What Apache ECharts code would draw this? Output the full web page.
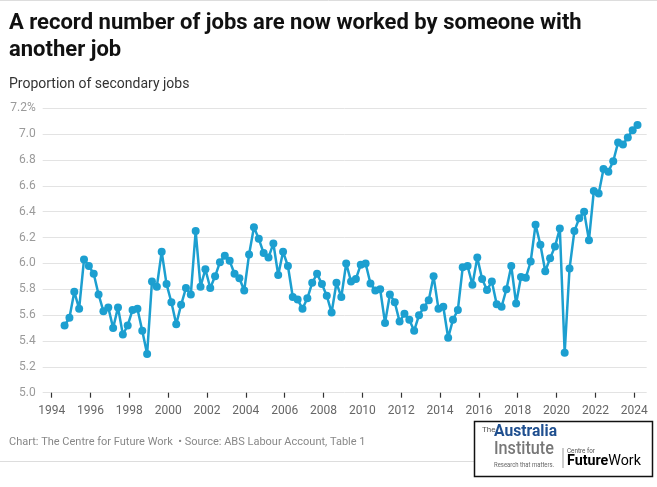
<!DOCTYPE html>
<html>
<head>
<meta charset="utf-8">
<script src="https://cdn.jsdelivr.net/npm/echarts@6/dist/echarts.min.js"></script>
<style>
html,body{margin:0;padding:0;background:#fff;}
#chart{width:657px;height:487px;}
</style>
</head>
<body>
<div id="chart"></div>
<script>
// Quarterly series, first observation Sep 1994
const startYear = 1994;
const startMonth = 9;
const secondaryShare = [
  5.52, 5.58, 5.78, 5.65, 6.03, 5.98, 5.92, 5.76, 5.63, 5.66,
  5.50, 5.66, 5.45, 5.52, 5.64, 5.65, 5.48, 5.30, 5.86, 5.82,
  6.09, 5.84, 5.70, 5.53, 5.68, 5.81, 5.76, 6.25, 5.82, 5.955,
  5.81, 5.90, 6.01, 6.06, 6.02, 5.92, 5.885, 5.79, 6.07, 6.28,
  6.19, 6.08, 6.045, 6.155, 5.91, 6.09, 5.98, 5.74, 5.72, 5.65,
  5.73, 5.85, 5.92, 5.84, 5.75, 5.62, 5.85, 5.74, 6.00, 5.86,
  5.88, 5.99, 6.00, 5.845, 5.79, 5.80, 5.54, 5.76, 5.70, 5.55,
  5.61, 5.565, 5.48, 5.60, 5.66, 5.715, 5.90, 5.65, 5.665, 5.425,
  5.565, 5.64, 5.97, 5.98, 5.835, 6.045, 5.88, 5.795, 5.86, 5.685,
  5.665, 5.80, 5.98, 5.69, 5.895, 5.89, 6.015, 6.30, 6.145, 5.94,
  6.04, 6.13, 6.27, 5.31, 5.96, 6.25, 6.35, 6.40, 6.18, 6.56,
  6.54, 6.73, 6.71, 6.79, 6.935, 6.92, 6.975, 7.03, 7.07
];
const xTickYears = [1994, 1996, 1998, 2000, 2002, 2004, 2006, 2008, 2010, 2012, 2014, 2016, 2018, 2020, 2022, 2024];
const yTicks = [5.0, 5.2, 5.4, 5.6, 5.8, 6.0, 6.2, 6.4, 6.6, 6.8, 7.0, 7.2];

// quarter dates as decimal years (first day of the quarter's last month)
const quarterDates = secondaryShare.map((_, i) => {
  const m = startMonth - 1 + i * 3;
  return startYear + Math.floor(m / 12) + (m % 12) / 12;
});
const seriesData = secondaryShare.map((v, i) => [quarterDates[i], v]);

const chart = echarts.init(document.getElementById('chart'), null, {renderer: 'canvas'});
const FONT = 'Roboto';
const option = {
  backgroundColor: '#ffffff',
  animation: false,
  title: {
    text: 'A record number of jobs are now worked by someone with\nanother job',
    left: 4, top: 5,
    textStyle: {fontFamily: FONT, fontSize: 22, fontWeight: 'bold', color: '#111111', lineHeight: 27}
  },
  grid: {left: 42.7, right: 10.3, top: 108.3, bottom: 94.3, containLabel: false},
  xAxis: {
    type: 'value',
    min: 1993.54, max: 2024.64,
    axisLine: {show: false},
    splitLine: {show: false},
    axisTick: {show: true, length: 5, lineStyle: {color: '#333333', width: 1.2}, customValues: xTickYears},
    axisLabel: {
      customValues: xTickYears,
      fontFamily: FONT, fontSize: 12, color: '#666666', margin: 12,
      formatter: v => String(Math.round(v))
    }
  },
  yAxis: {
    type: 'value',
    min: 5.0, max: 7.2, interval: 0.2,
    axisLine: {show: false},
    axisTick: {show: false},
    splitLine: {show: true, lineStyle: {color: '#e3e3e3', width: 1}},
    axisLabel: {
      fontFamily: FONT, fontSize: 12, color: '#9a9a9a', margin: 7,
      formatter: v => (Math.abs(v - yTicks[yTicks.length - 1]) < 1e-6 ? v.toFixed(1) + '%' : v.toFixed(1))
    }
  },
  series: [{
    type: 'line',
    data: seriesData,
    symbol: 'circle',
    symbolSize: 8,
    showAllSymbol: true,
    lineStyle: {color: '#1c9fd0', width: 2.5},
    itemStyle: {color: '#1c9fd0'},
    z: 3
  }],
  graphic: [
    {type: 'line', shape: {x1: 0, y1: 0.5, x2: 657, y2: 0.5}, style: {stroke: '#dddddd', lineWidth: 1}},
    {type: 'text', left: 9, top: 77, style: {text: 'Proportion of secondary jobs', fontFamily: FONT, fontSize: 14, fill: '#333333'}},
    {type: 'text', left: 9, top: 437, style: {text: 'Chart: The Centre for Future Work  \u2022 Source: ABS Labour Account, Table 1', fontFamily: FONT, fontSize: 11, fill: '#888888'}},
    {type: 'line', shape: {x1: 0, y1: 461.5, x2: 478, y2: 461.5}, style: {stroke: '#dddddd', lineWidth: 1}},
    {type: 'rect', shape: {x: 474.5, y: 421.5, width: 178, height: 55}, style: {fill: '#ffffff', stroke: '#111111', lineWidth: 1.5}, z: 10},
    {type: 'text', x: 482, y: 426, z: 11, style: {text: 'The', fontFamily: FONT, fontSize: 8, fill: '#555555'}},
    {type: 'text', x: 494, y: 423, z: 11, scaleX: 0.92, style: {text: 'Australia', fontFamily: FONT, fontWeight: 'bold', fontSize: 17, fill: '#1f4f8f'}},
    {type: 'text', x: 494, y: 440.5, z: 11, scaleX: 0.9, style: {text: 'Institute', fontFamily: FONT, fontWeight: 500, fontSize: 18, fill: '#777777'}},
    {type: 'text', x: 494, y: 461.5, z: 11, scaleX: 0.85, style: {text: 'Research that matters.', fontFamily: FONT, fontSize: 7, fill: '#666666'}},
    {type: 'line', z: 11, shape: {x1: 563, y1: 448, x2: 563, y2: 468}, style: {stroke: '#999999', lineWidth: 1}},
    {type: 'text', x: 567, y: 448, z: 11, scaleX: 0.9, style: {text: 'Centre for', fontFamily: FONT, fontSize: 7, fill: '#555555'}},
    {type: 'text', x: 567, y: 453, z: 11, scaleX: 0.92, style: {
      text: '{a|Future}{b|Work}',
      rich: {
        a: {fontFamily: FONT, fontSize: 15.5, fontWeight: 'bold', color: '#e87a24'},
        b: {fontFamily: FONT, fontSize: 15.5, color: '#777777'}
      }
    }}
  ]
};
chart.setOption(option);
</script>
</body>
</html>
